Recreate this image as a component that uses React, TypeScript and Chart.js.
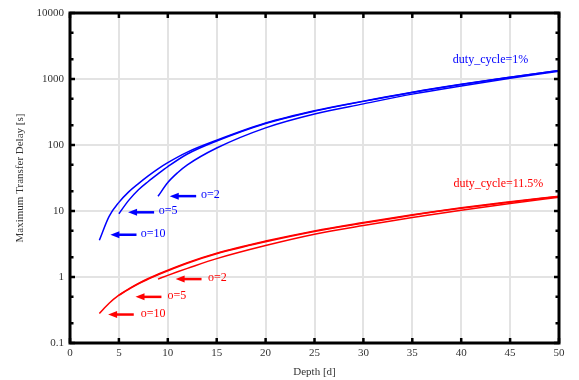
import React, { useEffect, useRef } from "react";
import { Chart, registerables } from "chart.js";

Chart.register(...registerables);

// ---------- data ----------
const depthO10 = [3, 4, 5, 6, 7, 8, 9, 10, 12, 15, 20, 25, 30, 35, 40, 45, 50];
const depthO5 = [5, 6, 7, 8, 9, 10, 12, 15, 20, 25, 30, 35, 40, 45, 50];
const depthO2 = [9, 10, 11, 12, 15, 20, 25, 30, 35, 40, 45, 50];

const blueO10 = [3.6, 8.3, 13.5, 19.5, 26, 34, 43.5, 54, 78, 118, 215, 330, 462, 630, 830, 1065, 1350];
const blueO5 = [9.1, 14.5, 21, 28, 36.5, 47, 73, 115, 212, 326, 458, 626, 826, 1060, 1345];
const blueO2 = [16.7, 27, 38, 50, 90, 182, 295, 420, 590, 785, 1025, 1310];

const redO10 = [0.28, 0.4, 0.53, 0.66, 0.8, 0.95, 1.1, 1.27, 1.65, 2.3, 3.5, 5.0, 6.7, 8.8, 11.2, 13.8, 16.8];
const redO5 = [0.53, 0.65, 0.79, 0.93, 1.08, 1.24, 1.62, 2.25, 3.42, 4.9, 6.55, 8.65, 11.0, 13.6, 16.6];
const redO2 = [0.93, 1.06, 1.2, 1.35, 1.9, 3.0, 4.45, 6.05, 8.0, 10.3, 13.0, 16.2];

const xTickValues = [0, 5, 10, 15, 20, 25, 30, 35, 40, 45, 50];
const yTickValues = [0.1, 1, 10, 100, 1000, 10000];
const yTickLabels = ["0.1", "1", "10", "100", "1000", "10000"];
const yMinorFactors = [2, 5];

// arrow annotations (data coordinates)
const arrowLabels = ["o=2", "o=5", "o=10", "o=2", "o=5", "o=10"];
const arrowGroup = ["blue", "blue", "blue", "red", "red", "red"];
const arrowTipDepth = [10.2, 5.94, 4.13, 10.8, 6.7, 3.9];
const arrowTailDepth = [12.9, 8.6, 6.8, 13.45, 9.35, 6.52];
const arrowDelay = [16.8, 9.55, 4.37, 0.93, 0.5, 0.27];
const arrowLabelDepth = [13.4, 9.08, 7.24, 14.1, 9.97, 7.24];

const seriesLabels = ["duty_cycle=1%", "duty_cycle=11.5%"];
const seriesLabelGroup = ["blue", "red"];
const seriesLabelDepth = [43.0, 43.8];
const seriesLabelDelay = [1980, 25.9];

const COLORS: Record<string, string> = { blue: "#0000ff", red: "#ff0000" };
const SERIF = '"Liberation Serif", "DejaVu Serif", serif';

const pts = (xs: number[], ys: number[]) => xs.map((x, i) => ({ x, y: ys[i] }));

const framePlugin = {
  id: "frame",
  afterDraw(chart: any) {
    const { ctx, chartArea } = chart;
    const { left, right, top, bottom } = chartArea;
    const xs = chart.scales.x;
    const ys = chart.scales.y;
    ctx.save();
    ctx.strokeStyle = "#000";
    ctx.lineWidth = 3;
    ctx.strokeRect(left, top, right - left, bottom - top);
    ctx.lineWidth = 2.5;
    ctx.beginPath();
    xTickValues.forEach((v) => {
      const px = xs.getPixelForValue(v);
      ctx.moveTo(px, bottom);
      ctx.lineTo(px, bottom - 5);
      ctx.moveTo(px, top);
      ctx.lineTo(px, top + 5);
    });
    yTickValues.forEach((v) => {
      const py = ys.getPixelForValue(v);
      ctx.moveTo(left, py);
      ctx.lineTo(left + 5, py);
      ctx.moveTo(right, py);
      ctx.lineTo(right - 5, py);
      if (v < 10000) {
        yMinorFactors.forEach((f) => {
          const pm = ys.getPixelForValue(v * f);
          ctx.moveTo(left, pm);
          ctx.lineTo(left + 3.5, pm);
          ctx.moveTo(right, pm);
          ctx.lineTo(right - 3.5, pm);
        });
      }
    });
    ctx.stroke();
    ctx.restore();
  },
};

const annotationPlugin = {
  id: "annot",
  afterDatasetsDraw(chart: any) {
    const { ctx } = chart;
    const xs = chart.scales.x;
    const ys = chart.scales.y;
    ctx.save();
    ctx.font = `12px ${SERIF}`;
    ctx.textBaseline = "middle";
    arrowLabels.forEach((lab, i) => {
      const col = COLORS[arrowGroup[i]];
      const tip = xs.getPixelForValue(arrowTipDepth[i]);
      const tail = xs.getPixelForValue(arrowTailDepth[i]);
      const y = ys.getPixelForValue(arrowDelay[i]);
      ctx.strokeStyle = col;
      ctx.fillStyle = col;
      ctx.lineWidth = 2.5;
      ctx.beginPath();
      ctx.moveTo(tail, y);
      ctx.lineTo(tip + 7, y);
      ctx.stroke();
      ctx.beginPath();
      ctx.moveTo(tip, y);
      ctx.lineTo(tip + 9, y - 3.5);
      ctx.lineTo(tip + 9, y + 3.5);
      ctx.closePath();
      ctx.fill();
      ctx.textAlign = "left";
      ctx.fillText(lab, xs.getPixelForValue(arrowLabelDepth[i]), y - 1);
    });
    seriesLabels.forEach((lab, i) => {
      ctx.fillStyle = COLORS[seriesLabelGroup[i]];
      ctx.textAlign = "center";
      ctx.fillText(lab, xs.getPixelForValue(seriesLabelDepth[i]), ys.getPixelForValue(seriesLabelDelay[i]));
    });
    ctx.restore();
  },
};

export default function App() {
  const canvasRef = useRef<HTMLCanvasElement | null>(null);

  useEffect(() => {
    document.body.style.margin = "0";
    const canvas = canvasRef.current;
    if (!canvas) return;
    const mkSet = (data: any, group: string) => ({
      data,
      borderColor: COLORS[group],
      backgroundColor: COLORS[group],
      borderWidth: 1.5,
      pointRadius: 0,
      fill: false,
      cubicInterpolationMode: "monotone" as const,
    });
    const tickFont = { family: SERIF, size: 11 };
    const chart = new Chart(canvas, {
      type: "line",
      data: {
        datasets: [
          mkSet(pts(depthO10, blueO10), "blue"),
          mkSet(pts(depthO5, blueO5), "blue"),
          mkSet(pts(depthO2, blueO2), "blue"),
          mkSet(pts(depthO10, redO10), "red"),
          mkSet(pts(depthO5, redO5), "red"),
          mkSet(pts(depthO2, redO2), "red"),
        ],
      },
      options: {
        responsive: false,
        animation: false,
        layout: { padding: { top: 13, right: 20, left: 0, bottom: 0 } },
        plugins: { legend: { display: false }, tooltip: { enabled: false } },
        scales: {
          x: {
            type: "linear",
            min: 0,
            max: 50,
            afterBuildTicks: (s: any) => {
              s.ticks = xTickValues.map((v) => ({ value: v }));
            },
            ticks: { font: tickFont, color: "#333", padding: 4, maxRotation: 0 },
            grid: { color: "#e3e3e3", lineWidth: 2, drawTicks: false },
            border: { display: false },
            title: {
              display: true,
              text: "Depth [d]",
              font: tickFont,
              color: "#333",
              padding: { top: 0, bottom: 1.5 },
            },
            afterFit: (s: any) => {
              s.height = 37;
            },
          },
          y: {
            type: "logarithmic",
            min: 0.1,
            max: 10000,
            afterBuildTicks: (s: any) => {
              s.ticks = yTickValues.map((v) => ({ value: v }));
            },
            ticks: {
              font: tickFont,
              color: "#333",
              padding: 6,
              callback: (_v: any, i: number) => yTickLabels[i],
            },
            grid: { color: "#e3e3e3", lineWidth: 2, drawTicks: false },
            border: { display: false },
            title: {
              display: true,
              text: "Maximum Transfer Delay [s]",
              font: tickFont,
              color: "#333",
              padding: { top: 14, bottom: 0 },
            },
            afterFit: (s: any) => {
              s.width = 70;
            },
          },
        },
      },
      plugins: [framePlugin, annotationPlugin],
    });
    return () => chart.destroy();
  }, []);

  return (
    <div style={{ width: 579, height: 380 }}>
      <canvas ref={canvasRef} width={579} height={380} style={{ display: "block", width: 579, height: 380 }} />
    </div>
  );
}
